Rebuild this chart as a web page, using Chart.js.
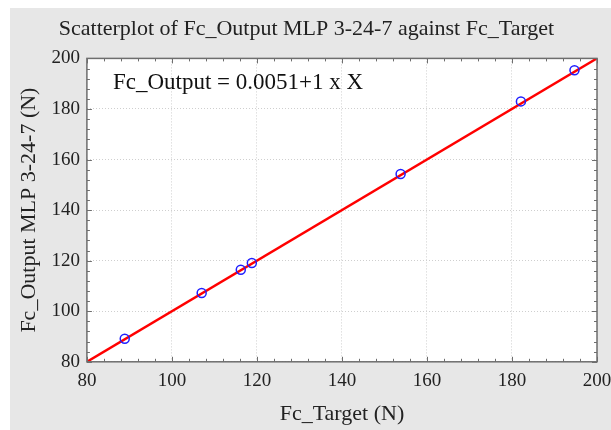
<!DOCTYPE html>
<html>
<head>
<meta charset="utf-8">
<script src="https://cdn.jsdelivr.net/npm/chart.js@4.4.0/dist/chart.umd.min.js"></script>
<style>
  html, body { margin: 0; padding: 0; background: #fff; }
  #wrap { width: 611px; height: 430px; }
</style>
</head>
<body>
<div id="wrap"><canvas id="myGraph" width="611" height="430"></canvas></div>
<script>
// values
const targetValues = [88.9, 107.0, 116.2, 118.8, 153.8, 182.1, 194.7];
const outputValues = [89.1, 107.2, 116.4, 119.1, 154.3, 183.0, 195.3];
const fitIntercept = 0.0051;
const fitSlope = 1;
const axisMin = 80;
const axisMax = 200;
const majorStep = 20;
const minorStep = 4;

const serif = "'Liberation Serif', 'DejaVu Serif', serif";

const points = targetValues.map((x, i) => ({ x: x, y: outputValues[i] }));
const fitLine = [axisMin, axisMax].map((x) => ({ x: x, y: fitIntercept + fitSlope * x }));

// grey page behind, white plot area
const backdrop = {
  id: "backdrop",
  beforeDraw(chart) {
    const { ctx, chartArea } = chart;
    ctx.save();
    ctx.fillStyle = "#ffffff";
    ctx.fillRect(0, 0, chart.width, chart.height);
    ctx.fillStyle = "#e7e7e7";
    ctx.fillRect(10, 8, chart.width - 10, chart.height - 8);
    ctx.fillStyle = "#ffffff";
    ctx.fillRect(chartArea.left, chartArea.top, chartArea.right - chartArea.left, chartArea.bottom - chartArea.top);
    ctx.restore();
  },
};

// frame with inward major / minor ticks on all four sides, plus the equation
const frame = {
  id: "frame",
  afterDraw(chart) {
    const { ctx, chartArea } = chart;
    const xs = chart.scales.x;
    const ys = chart.scales.y;
    ctx.save();
    ctx.strokeStyle = "#6e6e6e";
    ctx.lineWidth = 1;
    ctx.beginPath();
    for (let v = axisMin; v <= axisMax; v += minorStep) {
      const len = v % majorStep === 0 ? 5 : 3;
      const px = Math.round(xs.getPixelForValue(v)) + 0.5;
      ctx.moveTo(px, chartArea.bottom);
      ctx.lineTo(px, chartArea.bottom - len);
      ctx.moveTo(px, chartArea.top);
      ctx.lineTo(px, chartArea.top + len);
      const py = Math.round(ys.getPixelForValue(v)) + 0.5;
      ctx.moveTo(chartArea.left, py);
      ctx.lineTo(chartArea.left + len, py);
      ctx.moveTo(chartArea.right, py);
      ctx.lineTo(chartArea.right - len, py);
    }
    ctx.stroke();
    ctx.lineWidth = 1.5;
    ctx.strokeRect(chartArea.left, chartArea.top, chartArea.right - chartArea.left, chartArea.bottom - chartArea.top);

    ctx.fillStyle = "#111";
    ctx.font = "23px " + serif;
    ctx.textBaseline = "middle";
    ctx.textAlign = "left";
    ctx.fillText("Fc_Output = " + fitIntercept + "+" + fitSlope + " x X", chartArea.left + 26, chartArea.top + 25);
    ctx.restore();
  },
};

const majorOnly = (ctx) => (ctx.tick.value % majorStep === 0 ? "#cfcfcf" : "rgba(0,0,0,0)");

new Chart(document.getElementById("myGraph"), {
  type: "scatter",
  data: {
    datasets: [
      {
        label: "fit",
        type: "line",
        data: fitLine,
        borderColor: "#ff0000",
        borderWidth: 2.5,
        pointRadius: 0,
        fill: false,
        tension: 0,
        order: 2,
      },
      {
        label: "Fc_Output",
        data: points,
        borderColor: "#1f1fff",
        backgroundColor: "rgba(0,0,0,0)",
        borderWidth: 1.5,
        pointRadius: 4.5,
        order: 1,
      },
    ],
  },
  options: {
    responsive: false,
    animation: false,
    layout: { padding: { left: 2, right: 0, top: 0, bottom: 3 } },
    plugins: {
      legend: { display: false },
      tooltip: { enabled: false },
      title: {
        display: true,
        text: "Scatterplot of Fc_Output MLP 3-24-7 against Fc_Target",
        color: "#222",
        font: { family: serif, size: 22, weight: "normal" },
        padding: { top: 16, bottom: 16 },
      },
    },
    scales: {
      x: {
        type: "linear",
        min: axisMin,
        max: axisMax,
        afterFit: (scale) => {
          scale.paddingRight = 14;
        },
        grid: { color: majorOnly, drawTicks: false, lineWidth: 1 },
        border: { display: false, dash: [1, 2] },
        ticks: {
          stepSize: minorStep,
          autoSkip: false,
          maxRotation: 0,
          padding: 8,
          color: "#222",
          font: { family: serif, size: 19 },
          callback: (v) => (v % majorStep === 0 ? v : ""),
        },
        title: {
          display: true,
          text: "Fc_Target (N)",
          color: "#222",
          font: { family: serif, size: 22 },
          padding: { top: 0, bottom: 0 },
        },
      },
      y: {
        type: "linear",
        min: axisMin,
        max: axisMax,
        grid: { color: majorOnly, drawTicks: false, lineWidth: 1 },
        border: { display: false, dash: [1, 2] },
        ticks: {
          stepSize: minorStep,
          autoSkip: false,
          padding: 7,
          color: "#222",
          font: { family: serif, size: 19 },
          callback: (v) => (v % majorStep === 0 ? v : ""),
        },
        title: {
          display: true,
          text: "Fc_Output MLP 3-24-7 (N)",
          color: "#222",
          font: { family: serif, size: 22 },
          padding: { top: 14, bottom: 2 },
        },
      },
    },
  },
  plugins: [backdrop, frame],
});
</script>
</body>
</html>
